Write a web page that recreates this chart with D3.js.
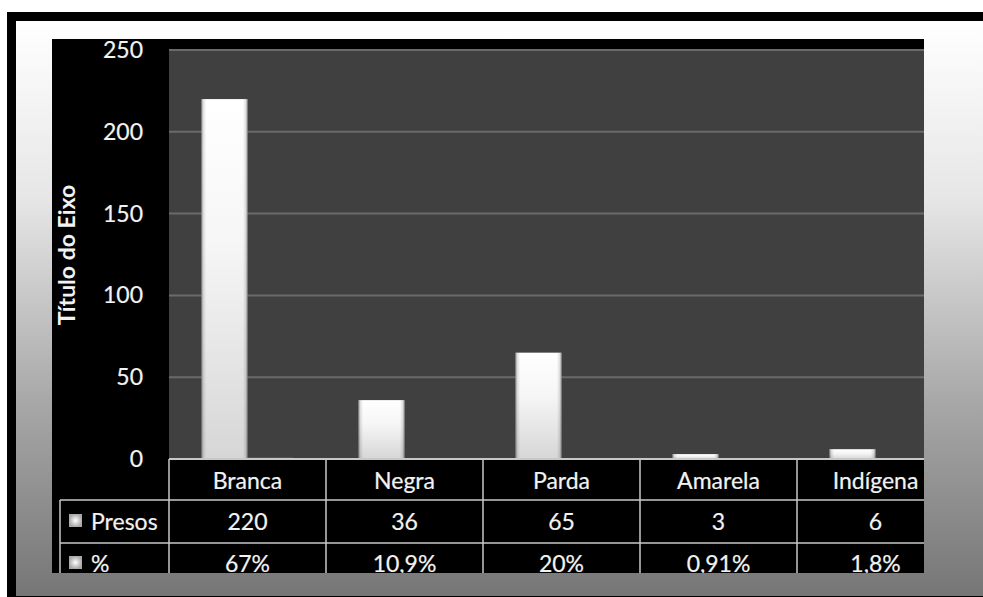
<!DOCTYPE html>
<html>
<head>
<meta charset="utf-8">
<script src="https://cdn.jsdelivr.net/npm/d3@7"></script>
<style>
  body { margin: 0; background: #fff; }
  svg { display: block; }
</style>
</head>
<body>
<div id="my_dataviz"></div>
<script>
// data
const categories = ["Branca", "Negra", "Parda", "Amarela", "Indígena"];
const series = ["Presos", "%"];
const presos = [220, 36, 65, 3, 6];
const percent = [0.67, 0.109, 0.20, 0.0091, 0.018];
const percentLabels = ["67%", "10,9%", "20%", "0,91%", "1,8%"];
const yTicks = [0, 50, 100, 150, 200, 250];
const axisTitle = "Título do Eixo";

const W = 983, H = 597;
const font = "Lato, 'Open Sans', sans-serif";
const txt = "#f2f2f2";

const svg = d3.select("#my_dataviz")
  .append("svg")
  .attr("width", W)
  .attr("height", H);

const defs = svg.append("defs");

// background gradient of the frame
const bg = defs.append("linearGradient").attr("id", "bgGrad")
  .attr("x1", 0).attr("y1", 0).attr("x2", 0).attr("y2", 1);
[[0, "#ffffff"], [0.31, "#e6e6e6"], [0.66, "#a8a8a8"], [1, "#767676"]]
  .forEach(s => bg.append("stop").attr("offset", s[0]).attr("stop-color", s[1]));

// bar fill: white to light gray
const bv = defs.append("linearGradient").attr("id", "barV")
  .attr("x1", 0).attr("y1", 0).attr("x2", 0).attr("y2", 1);
bv.append("stop").attr("offset", 0).attr("stop-color", "#ffffff");
bv.append("stop").attr("offset", 0.4).attr("stop-color", "#f6f6f6");
bv.append("stop").attr("offset", 1).attr("stop-color", "#d6d6d6");

// slightly darker edges of the bars
const bh = defs.append("linearGradient").attr("id", "barH")
  .attr("x1", 0).attr("y1", 0).attr("x2", 1).attr("y2", 0);
[[0, 0.4], [0.04, 0.12], [0.1, 0], [0.9, 0], [0.96, 0.12], [1, 0.4]]
  .forEach(s => bh.append("stop").attr("offset", s[0])
    .attr("stop-color", "#000").attr("stop-opacity", s[1]));

// legend key gradient
const lg = defs.append("radialGradient").attr("id", "keyGrad");
lg.append("stop").attr("offset", 0).attr("stop-color", "#ffffff");
lg.append("stop").attr("offset", 1).attr("stop-color", "#a8a8a8");

// outer black frame and inner gradient
svg.append("rect").attr("x", 7).attr("y", 12).attr("width", W).attr("height", H - 12)
  .attr("fill", "#000");
svg.append("rect").attr("x", 16).attr("y", 21).attr("width", W).attr("height", 575)
  .attr("fill", "url(#bgGrad)");

// chart area (black), everything clipped to it
const area = {x: 52, y: 39, w: 872, h: 534};
defs.append("clipPath").attr("id", "areaClip")
  .append("rect").attr("x", area.x).attr("y", area.y)
  .attr("width", area.w).attr("height", area.h);

const g = svg.append("g").attr("clip-path", "url(#areaClip)");
g.append("rect").attr("x", area.x).attr("y", area.y)
  .attr("width", area.w).attr("height", area.h).attr("fill", "#000");

// scales
const colW = 157;
const x0 = d3.scaleBand()
  .domain(categories)
  .range([169, 169 + colW * categories.length]);
const x1 = d3.scaleBand()
  .domain(series)
  .range([0, colW])
  .paddingOuter(0.707);
const y = d3.scaleLinear().domain([0, 250]).range([459, 50]);

// text helper, thin stroke to get a Calibri-like weight
function styleText(sel, size, bold) {
  return sel.attr("fill", txt)
    .attr("stroke", txt).attr("stroke-width", bold ? 0 : 0.2)
    .style("font-family", font)
    .style("font-size", size + "px")
    .style("font-weight", bold ? "bold" : "normal");
}

// plot background
g.append("rect").attr("x", 169).attr("y", 49)
  .attr("width", area.x + area.w - 169).attr("height", y(0) - 49)
  .attr("fill", "#404040");

// gridlines
g.append("g").selectAll("line")
  .data(yTicks.filter(d => d > 0))
  .enter().append("line")
  .attr("x1", 169).attr("x2", area.x + area.w)
  .attr("y1", d => y(d)).attr("y2", d => y(d))
  .attr("stroke", "#6a6a6a").attr("stroke-width", 2);

// y tick labels
styleText(g.append("g").selectAll("text")
  .data(yTicks)
  .enter().append("text")
  .attr("x", 143)
  .attr("y", d => y(d) - 1)
  .attr("text-anchor", "end")
  .attr("dominant-baseline", "central"), 23)
  .text(d => d);

// axis title
styleText(g.append("text")
  .attr("transform", "translate(66,255) rotate(-90)")
  .attr("text-anchor", "middle")
  .attr("dominant-baseline", "central"), 23, true)
  .text(axisTitle);

// bars
const barData = [];
categories.forEach((c, i) => {
  barData.push({cat: c, key: "Presos", value: presos[i]});
  barData.push({cat: c, key: "%", value: percent[i]});
});

const bars = g.append("g").selectAll("g")
  .data(barData)
  .enter().append("g");

bars.append("rect")
  .attr("x", d => x0(d.cat) + x1(d.key))
  .attr("y", d => y(d.value))
  .attr("width", x1.bandwidth())
  .attr("height", d => y(0) - y(d.value))
  .attr("fill", "url(#barV)");
bars.append("rect")
  .attr("x", d => x0(d.cat) + x1(d.key))
  .attr("y", d => y(d.value))
  .attr("width", x1.bandwidth())
  .attr("height", d => y(0) - y(d.value))
  .attr("fill", "url(#barH)");

// data table
const rowY = [459, 500, 543, 586];
const lineCol = "#c8c8c8";
const tbl = g.append("g");

// horizontal lines
tbl.append("line").attr("x1", 169).attr("x2", area.x + area.w)
  .attr("y1", rowY[0]).attr("y2", rowY[0])
  .attr("stroke", lineCol).attr("stroke-width", 2);
[rowY[1], rowY[2]].forEach(yy => {
  tbl.append("line").attr("x1", 60).attr("x2", area.x + area.w)
    .attr("y1", yy).attr("y2", yy)
    .attr("stroke", lineCol).attr("stroke-width", 1.5);
});
// vertical lines
tbl.selectAll(".vline")
  .data(categories)
  .enter().append("line")
  .attr("class", "vline")
  .attr("x1", d => x0(d)).attr("x2", d => x0(d))
  .attr("y1", rowY[0]).attr("y2", area.y + area.h)
  .attr("stroke", lineCol).attr("stroke-width", 1.5);
tbl.append("line").attr("x1", 60).attr("x2", 60)
  .attr("y1", rowY[1]).attr("y2", area.y + area.h)
  .attr("stroke", lineCol).attr("stroke-width", 1.5);

// table texts
const rows = [
  {y: 480, vals: categories},
  {y: 521, vals: presos},
  {y: 563, vals: percentLabels}
];
rows.forEach(r => {
  styleText(tbl.append("g").selectAll("text")
    .data(r.vals)
    .enter().append("text")
    .attr("x", (d, i) => x0(categories[i]) + colW / 2)
    .attr("y", r.y)
    .attr("text-anchor", "middle")
    .attr("dominant-baseline", "central"), 23)
    .text(d => d);
});

// row labels with legend keys
series.forEach((s, i) => {
  const cy = i === 0 ? 521 : 563;
  tbl.append("rect")
    .attr("x", 69).attr("y", cy - 7)
    .attr("width", 13).attr("height", 13)
    .attr("fill", "url(#keyGrad)");
  styleText(tbl.append("text")
    .attr("x", 91).attr("y", cy)
    .attr("dominant-baseline", "central"), 23)
    .text(s);
});
</script>
</body>
</html>
